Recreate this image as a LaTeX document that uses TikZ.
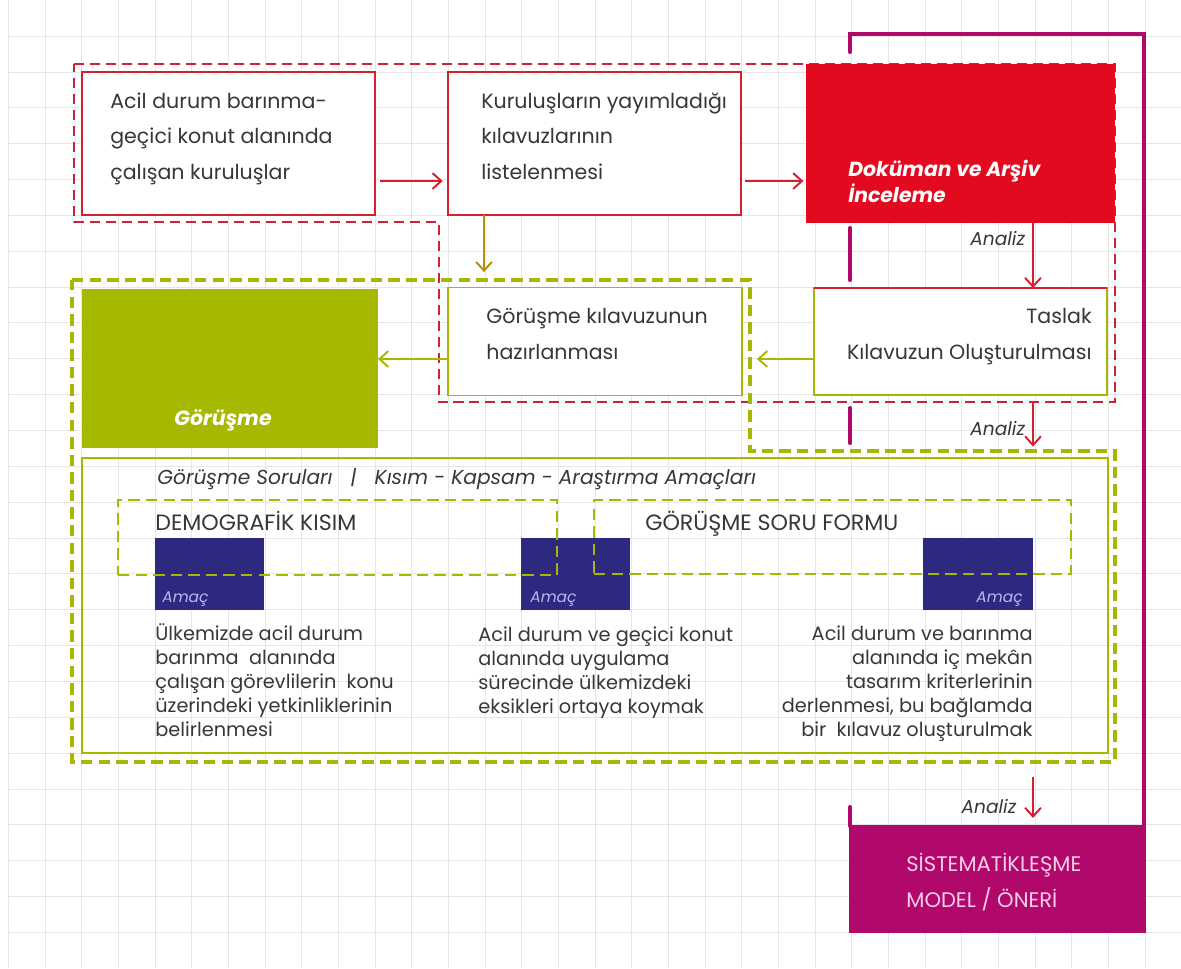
\documentclass[tikz,border=0pt]{standalone}
\usepackage{fontspec}
\setmainfont{Poppins}
\usetikzlibrary{arrows.meta,positioning}
\definecolor{ink}{RGB}{55,55,55}
\definecolor{rd}{RGB}{214,30,45}
\definecolor{rdfill}{RGB}{227,10,32}
\definecolor{rddash}{RGB}{200,35,55}
\definecolor{gr}{RGB}{168,184,0}
\definecolor{grfill}{RGB}{166,184,0}
\definecolor{navy}{RGB}{46,41,128}
\definecolor{mag}{RGB}{176,8,107}
\definecolor{pinktxt}{RGB}{248,205,232}
\definecolor{amac}{RGB}{190,180,238}
\definecolor{gridc}{RGB}{230,230,230}
\newcommand{\px}{0.02cm}

\begin{document}
\begin{tikzpicture}[x=0.02cm, y=-0.02cm, >={Straight Barb[length=5pt,width=9pt]},
  box/.style={inner sep=0pt, outer sep=0pt, fill=white},
  redbox/.style={box, draw=rd, line width=1.1pt},
  grbox/.style={box, draw=gr, line width=1.1pt},
  bodytxt/.style={text=ink, inner sep=0pt, anchor=base west, align=left, font=\fontsize{11.7}{20.2}\selectfont},
  smalltxt/.style={text=ink, inner sep=0pt, anchor=base west, align=left, font=\fontsize{11}{13.6}\selectfont},
  analiz/.style={text=ink, inner sep=0pt, anchor=base east, font=\fontsize{10.6}{12}\selectfont\itshape},
  amactxt/.style={text=amac, inner sep=0pt, font=\fontsize{8.8}{10}\selectfont\itshape},
  rarr/.style={->, draw=rd, line width=1.1pt},
  garr/.style={->, draw=gr, line width=1.1pt},
  reddash/.style={draw=rddash, line width=1.4pt, dash pattern=on 5.7pt off 3.4pt},
  grdash/.style={draw=gr, line width=2.8pt, dash pattern=on 6.5pt off 3.5pt},
  thindash/.style={draw=gr, line width=1.1pt, dash pattern=on 6.5pt off 3.5pt},
  magline/.style={draw=mag, line width=2.3pt, line cap=round}]
\useasboundingbox (0,0) rectangle (1181,968);
% grid
\foreach \i in {0,...,31} \draw[gridc, line width=0.4pt] ({8.3+36.67*\i},0) -- ({8.3+36.67*\i},968);
\foreach \j in {1,...,26} \draw[gridc, line width=0.4pt] (8.3,{0.15+35.85*\j}) -- (1181,{0.15+35.85*\j});
% frame lines
\draw[magline] (850,52) -- (850,34) -- (1144,34) -- (1144,826);
\draw[magline] (850,228) -- (850,280);
\draw[magline] (850,408) -- (850,443);
\draw[magline] (850,807) -- (850,826);
\draw[reddash] (74,64) -- (1115,64) -- (1115,402) -- (439,402) -- (439,222) -- (74,222) -- cycle;
\draw[grdash] (72,280) -- (750,280) -- (750,451) -- (1115,451) -- (1115,762) -- (72,762) -- cycle;
% boxes
\node[redbox, minimum width=293*\px, minimum height=143*\px] (kur) at (228.5,143.5) {};
\node[redbox, minimum width=293*\px, minimum height=143*\px] (liste) at (594.5,143.5) {};
\node[box, fill=rdfill, minimum width=309*\px, minimum height=159*\px] (doc) at (960.5,143.5) {};
\node[box, fill=grfill, minimum width=296*\px, minimum height=159*\px] (gor) at (230,368.5) {};
\node[grbox, minimum width=294*\px, minimum height=108*\px] (hazir) at (595,341.5) {};
\node[grbox, minimum width=293*\px, minimum height=107*\px] (taslak) at (960.5,341.5) {};
\draw[rd, line width=1.1pt] (taslak.north west) -- (taslak.north east);
\node[box, draw=gr, line width=1.4pt, fill=none, minimum width=1026*\px, minimum height=295*\px] (sorular) at (595,605.5) {};
\node[box, fill=navy, minimum width=109*\px, minimum height=72*\px] (amacA) at (209.5,574) {};
\node[box, fill=navy, minimum width=109*\px, minimum height=72*\px] (amacB) at (575.5,574) {};
\node[box, fill=navy, minimum width=110*\px, minimum height=72*\px] (amacC) at (978,574) {};
\node[box, thindash, fill=none, minimum width=439*\px, minimum height=75*\px] (demo) at (337.5,537.5) {};
\node[box, thindash, fill=none, minimum width=477*\px, minimum height=74*\px] (form) at (832.5,537) {};
\node[box, fill=mag, minimum width=297*\px, minimum height=108*\px] (sis) at (997.5,879) {};
% texts (base = last line)
\node[bodytxt] at (110,179) {Acil durum barınma-\\geçici konut alanında\\çalışan kuruluşlar};
\node[bodytxt] at (481,179) {Kuruluşların yayımladığı\\kılavuzlarının\\listelenmesi};
\node[bodytxt, text=white, font=\fontsize{11.6}{14.7}\selectfont\bfseries\itshape] at (848,202) {Doküman ve Arşiv\\İnceleme};
\node[bodytxt, text=white, font=\fontsize{11.7}{14}\selectfont\bfseries\itshape] at (174,425) {Görüşme};
\node[bodytxt, font=\fontsize{11.7}{20.4}\selectfont] at (486,359) {Görüşme kılavuzunun\\hazırlanması};
\node[bodytxt, anchor=base east, align=right, font=\fontsize{11.7}{20.4}\selectfont] at (1092,359) {Taslak\\Kılavuzun Oluşturulması};
\node[smalltxt, font=\fontsize{11.5}{13}\selectfont\itshape] at (157,484) {Görüşme Soruları\ \ \ |\ \ \ Kısım - Kapsam - Araştırma Amaçları};
\node[smalltxt, font=\fontsize{12.6}{13}\selectfont] at (155,530) {DEMOGRAFİK KISIM};
\node[smalltxt, font=\fontsize{12.6}{13}\selectfont] at (645,530) {GÖRÜŞME SORU FORMU};
\node[amactxt, anchor=base west] at ([shift={(7,-8)}]amacA.south west) {Amaç};
\node[amactxt, anchor=base west] at ([shift={(9,-8)}]amacB.south west) {Amaç};
\node[amactxt, anchor=base east] at ([shift={(-10,-8)}]amacC.south east) {Amaç};
\node[smalltxt] at (155,736) {Ülkemizde acil durum\\barınma\ \ alanında\\çalışan görevlilerin\ \ konu\\üzerindeki yetkinliklerinin\\belirlenmesi};
\node[smalltxt] at (478,713) {Acil durum ve geçici konut\\alanında uygulama\\sürecinde ülkemizdeki\\eksikleri ortaya koymak};
\node[smalltxt, anchor=base east, align=right] at (1033,736) {Acil durum ve barınma\\alanında iç mekân\\tasarım kriterlerinin\\derlenmesi, bu bağlamda\\bir\ \ kılavuz oluşturulmak};
\node[smalltxt, text=pinktxt, font=\fontsize{12}{20.4}\selectfont] at (906,907) {SİSTEMATİKLEŞME\\MODEL / ÖNERİ};
% arrows
\coordinate (ax) at (1033,0);
\coordinate (gtop) at (484,280);
\coordinate (rbot) at (1033,402);
\coordinate (gbot) at (1033,777);
\draw[rarr, shorten <=3pt, shorten >=3pt] ([yshift=-37.5*\px]kur.east) -- ([yshift=-37.5*\px]liste.west);
\draw[rarr, shorten <=2pt, shorten >=1.5pt] ([yshift=-37.5*\px]liste.east) -- ([yshift=-37.5*\px]liste.east -| doc.west);
\draw[->, draw=rd!25!gr, line width=1.1pt, shorten >=4.5pt] (liste.south -| gtop) -- (gtop);
\draw[rarr] (doc.south -| ax) -- (taslak.north -| ax) node[analiz, pos=0.35, xshift=-4pt] {Analiz};
\draw[garr, shorten >=8.5pt] ([yshift=-17.5*\px]taslak.west) -- ([yshift=-17.5*\px]hazir.east);
\draw[garr] ([yshift=-17.5*\px]hazir.west) -- ([yshift=-17.5*\px]hazir.west -| gor.east);
\draw[rarr, shorten >=6.5pt] (rbot) -- (sorular.north -| ax) node[analiz, pos=0.6, xshift=-4pt] {Analiz};
\draw[rarr, shorten >=4pt] (gbot) -- (sis.north -| ax) node[analiz, pos=0.75, xshift=-9pt] {Analiz};
\end{tikzpicture}
\end{document}
